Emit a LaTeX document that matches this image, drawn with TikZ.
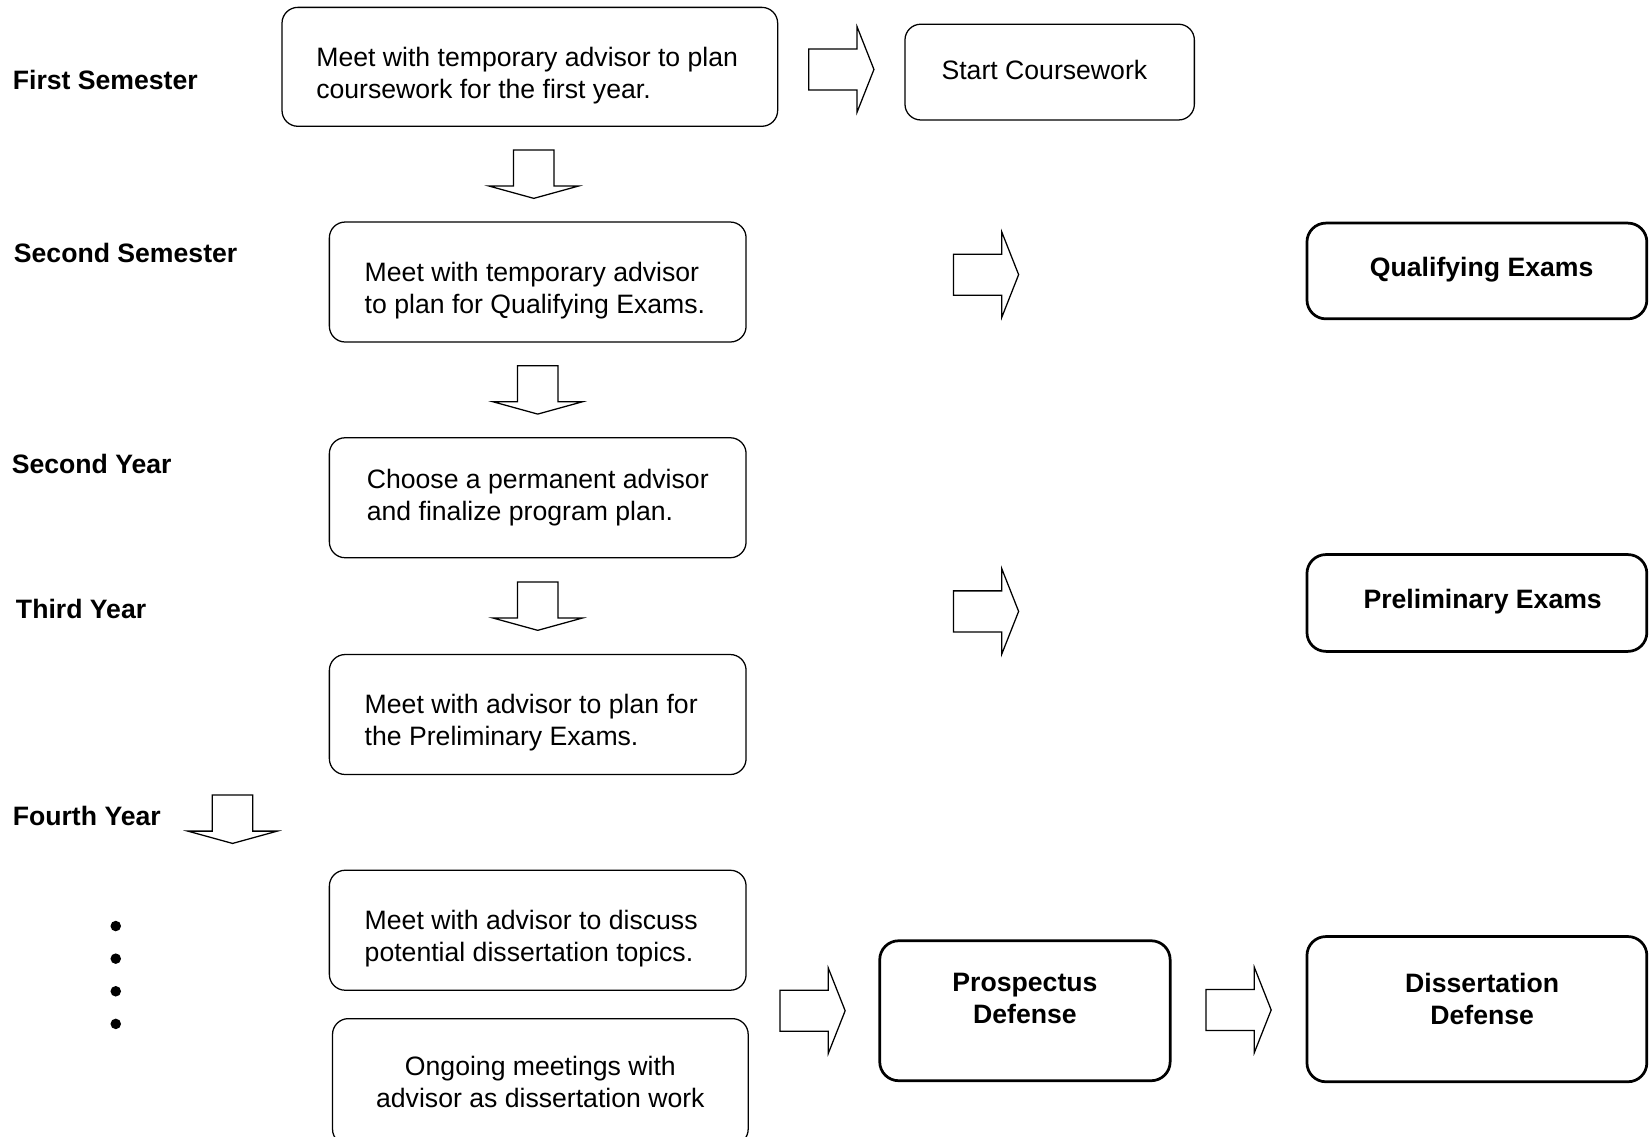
\documentclass[tikz,border=0pt]{standalone}
\usepackage{fontspec}
\setmainfont{Liberation Sans}
\usetikzlibrary{calc}
\tikzset{%
    plan/.style={%
        draw,%
        rounded corners=15pt,%
        line width=1.2pt,%
        inner sep=0pt%
    },%
    goal/.style={%
        draw,%
        rounded corners=18pt,%
        line width=2.6pt,%
        inner sep=0pt%
    },%
    plantext/.style={%
        anchor=west,%
        inner sep=0pt,%
        align=left,%
        font=\fontsize{25.3}{30.2}\selectfont%
    },%
    goaltext/.style={%
        inner sep=0pt,%
        align=center,%
        font=\fontsize{25.3}{30.2}\selectfont\bfseries%
    },%
    stage/.style={%
        anchor=west,%
        inner sep=0pt,%
        font=\fontsize{25.3}{30.2}\selectfont\bfseries%
    },%
    dot/.style={%
        circle,%
        fill,%
        inner sep=0pt,%
        minimum size=10pt%
    },%
    block/.style={%
        draw,%
        line width=1.2pt,%
        line join=miter%
    },%
    rarrow/.pic={%
        \draw[block] (-31,-19.5) -- (15,-19.5) -- (15,-40.5) -- (31,0)
            -- (15,40.5) -- (15,19.5) -- (-31,19.5) -- cycle;
    },%
    darrow/.pic={%
        \draw[block] (-19.25,-23) -- (19.25,-23) -- (19.25,11.3) -- (42.5,11.3)
            -- (0,23) -- (-42.5,11.3) -- (-19.25,11.3) -- cycle;
    }%
}

\begin{document}
\begin{tikzpicture}[x=1pt, y=-1pt]
    \useasboundingbox (0,0) rectangle (1568,1080);

    \node[stage] (first) at (12,76) {First Semester};
    \node[stage] (second) at (13,240) {Second Semester};
    \node[stage] (year2) at (11,441) {Second Year};
    \node[stage] (year3) at (15,579) {Third Year};
    \node[stage] (year4) at (12,775) {Fourth Year};

    \node[plan, minimum width=471pt, minimum height=113pt] (meetfirst) at (503.5,63.5) {};
    \node[plantext] (meetfirst-text) at ($(meetfirst.west)+(33,8)$)
        {Meet with temporary advisor to plan\\coursework for the first year.};
    \node[plan, minimum width=275pt, minimum height=91pt] (coursework) at (997.5,68.5) {};
    \node[goaltext, font=\fontsize{25.3}{30.2}\selectfont] (coursework-text)
        at ($(coursework.center)+(-5,-2)$) {Start Coursework};
    \node[plan, minimum width=396pt, minimum height=114pt] (meetqual) at (511,268) {};
    \node[plantext] (meetqual-text) at ($(meetqual.west)+(34,8.5)$)
        {Meet with temporary advisor\\to plan for Qualifying Exams.};
    \node[plan, minimum width=396pt, minimum height=114pt] (choose) at (511,473) {};
    \node[plantext] (choose-text) at ($(choose.west)+(36,0)$)
        {Choose a permanent advisor\\and finalize program plan.};
    \node[plan, minimum width=396pt, minimum height=114pt] (meetprelim) at (511,679) {};
    \node[plantext] (meetprelim-text) at ($(meetprelim.west)+(34,8)$)
        {Meet with advisor to plan for\\the Preliminary Exams.};
    \node[plan, minimum width=396pt, minimum height=114pt] (meettopics) at (511,884) {};
    \node[plantext] (meettopics-text) at ($(meettopics.west)+(34,8)$)
        {Meet with advisor to discuss\\potential dissertation topics.};
    \node[plan, minimum width=395pt, minimum height=120pt] (ongoing) at (513.5,1028) {};
    \node[goaltext, font=\fontsize{25.3}{30.2}\selectfont] (ongoing-text) at (ongoing.center)
        {Ongoing meetings with\\advisor as dissertation work};

    \node[goal, minimum width=323pt, minimum height=91pt] (qualifying) at (1403.5,257.5) {};
    \node[goaltext] (qualifying-text) at ($(qualifying.center)+(4.5,-1)$) {Qualifying Exams};
    \node[goal, minimum width=323pt, minimum height=92pt] (preliminary) at (1403.5,573) {};
    \node[goaltext] (preliminary-text) at ($(preliminary.center)+(5.5,-1)$) {Preliminary Exams};
    \node[goal, minimum width=276pt, minimum height=133pt] (prospectus) at (974,960.5) {};
    \node[goaltext] (prospectus-text) at ($(prospectus.center)+(0,-11.5)$) {Prospectus\\Defense};
    \node[goal, minimum width=323pt, minimum height=138pt] (dissertation) at (1403.5,959) {};
    \node[goaltext] (dissertation-text) at ($(dissertation.center)+(5,-9.5)$) {Dissertation\\Defense};

    \foreach \i/\y in {1/880,2/911,3/942,4/973}
        \node[dot] (dot\i) at (110,\y) {};

    \pic at ($(meetfirst.east)!.5!(coursework.west)$) {rarrow};
    \pic at (937,261) {rarrow};
    \pic at (937,581) {rarrow};
    \pic at ($(meettopics.east |- prospectus.west)!.5!(prospectus.west)$) {rarrow};
    \pic at ($(prospectus.east)!.5!(dissertation.west)$) {rarrow};
    \pic at ($(meetfirst.south)!.5!(meetqual.north)$) {darrow};
    \pic at ($(meetqual.south)!.5!(choose.north)$) {darrow};
    \pic at ($(choose.south)!.5!(meetprelim.north)$) {darrow};
    \pic at (221,778.5) {darrow};
\end{tikzpicture}
\end{document}
